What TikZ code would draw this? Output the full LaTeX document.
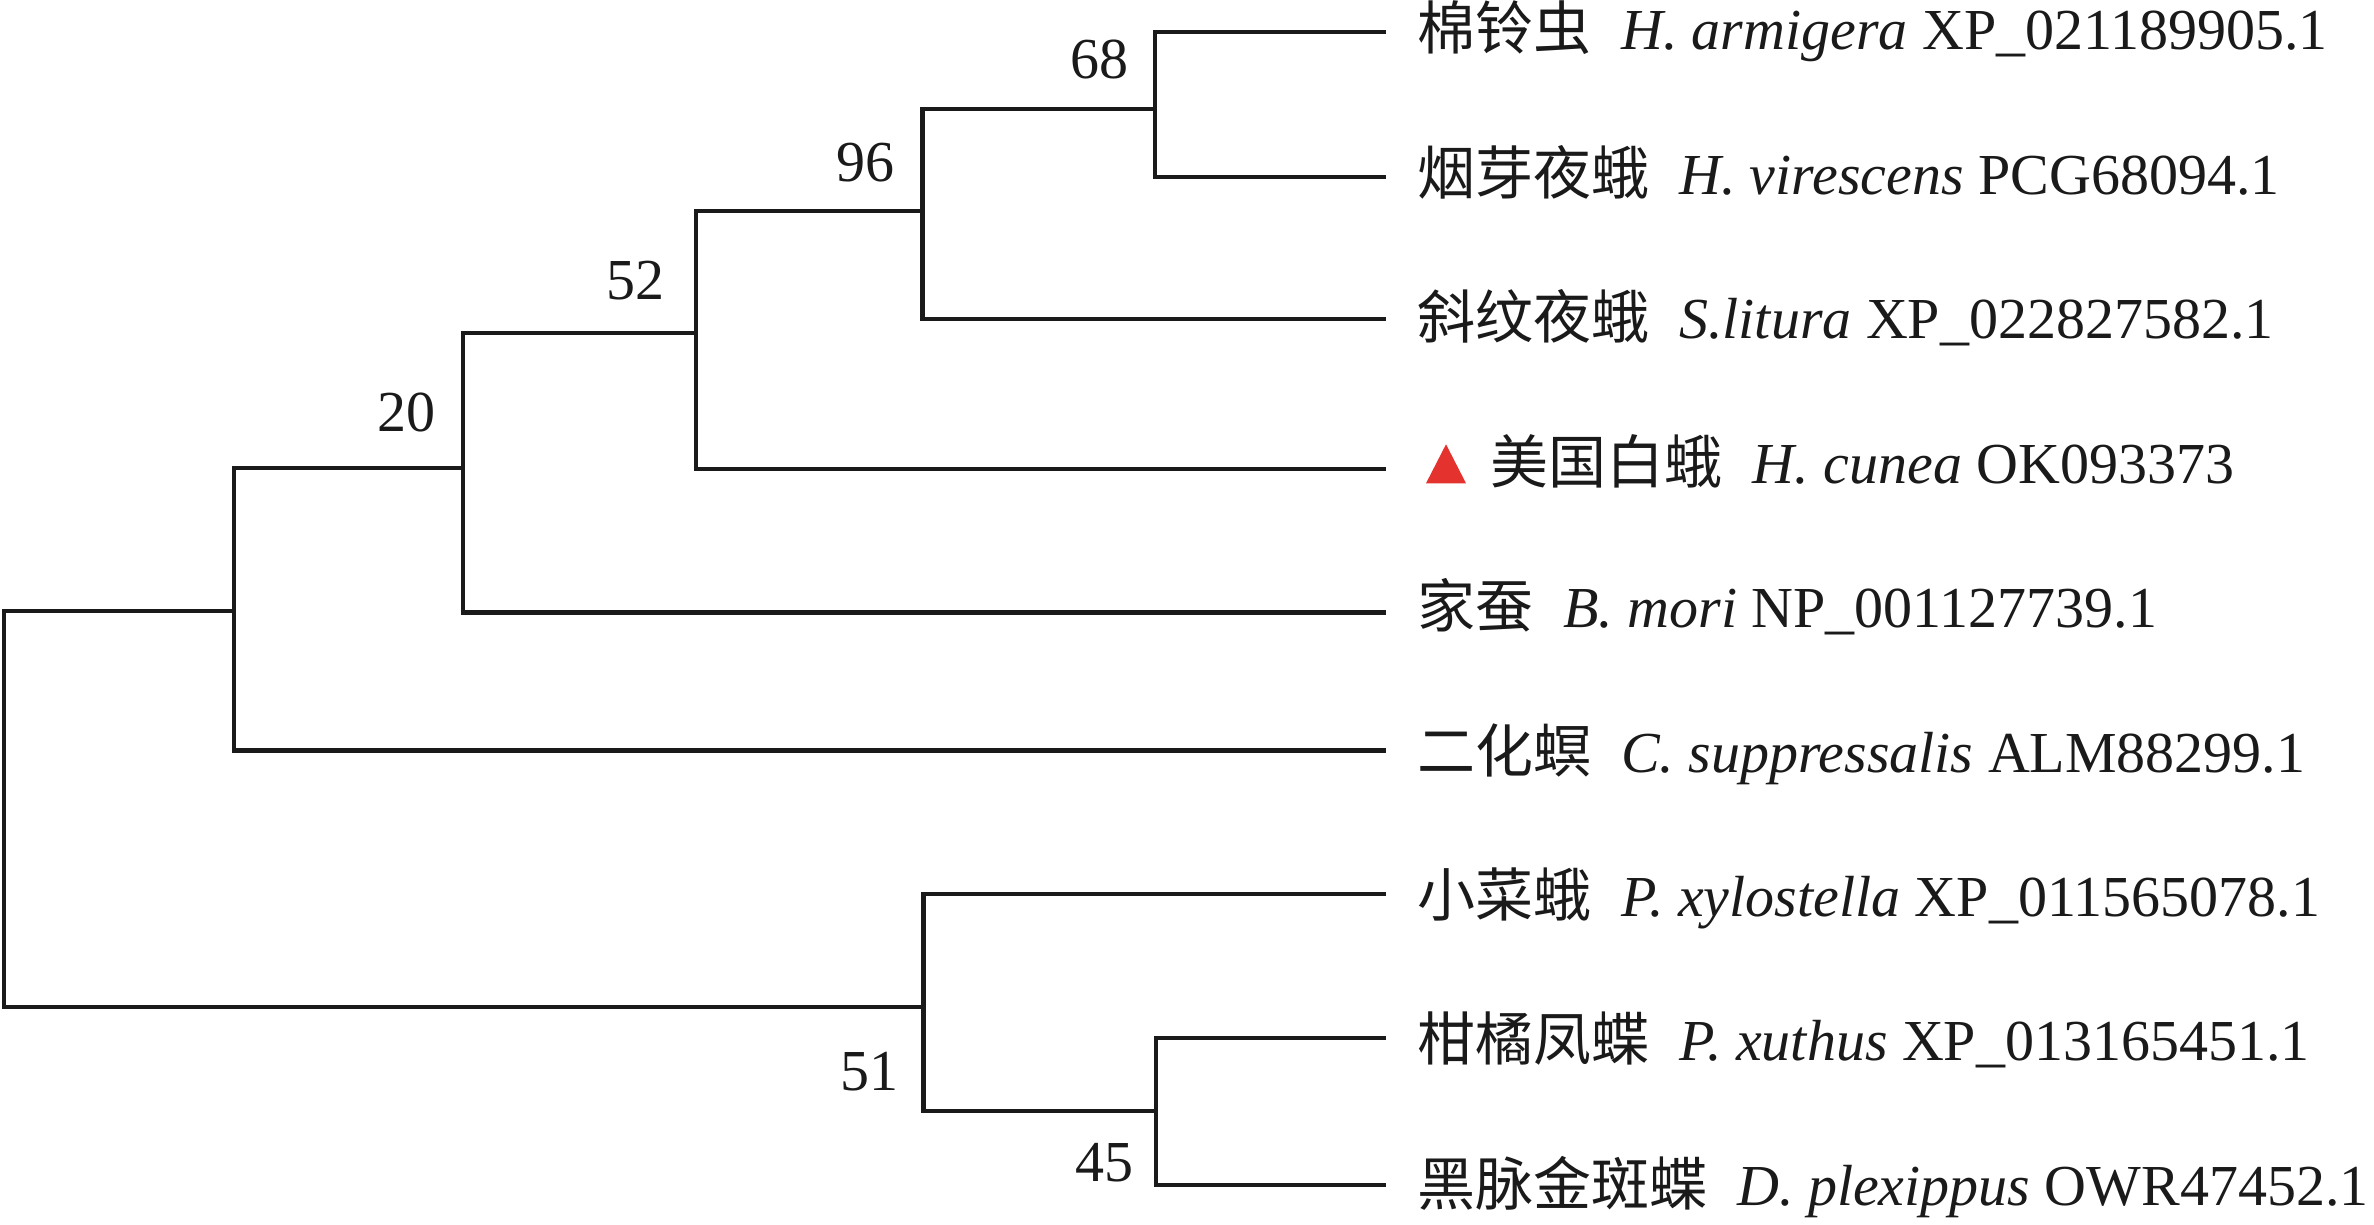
\documentclass[tikz,border=0pt]{standalone}
\usepackage{fontspec}
\setmainfont{Liberation Serif}
\newfontfamily\cjk{Noto Sans CJK SC}
\definecolor{ink}{RGB}{26,26,26}
\definecolor{tri}{RGB}{228,50,46}
\begin{document}
\begin{tikzpicture}[x=1pt,y=-1pt,
  br/.style={draw=ink,line width=4.4pt,line join=miter},
  leaflab/.style={anchor=base west,inner sep=0pt,outer sep=0pt,text=ink,font=\fontsize{58pt}{70pt}\selectfont},
  bootlab/.style={anchor=base east,inner sep=0pt,outer sep=0pt,text=ink,font=\fontsize{58pt}{70pt}\selectfont},
  trimark/.style={fill=tri,draw=none}]
\useasboundingbox (0,0) rectangle (2374,1225);
% leaf tips
\coordinate (l1) at (1386,32.3);
\coordinate (l2) at (1386,177);
\coordinate (l3) at (1386,318.7);
\coordinate (l4) at (1386,469);
\coordinate (l5) at (1386,612.3);
\coordinate (l6) at (1386,750.3);
\coordinate (l7) at (1386,893.7);
\coordinate (l8) at (1386,1037.7);
\coordinate (l9) at (1386,1185);
% internal nodes
\coordinate (nE) at (1155,109);
\coordinate (nD) at (922.3,210.8);
\coordinate (nC) at (695.7,332.7);
\coordinate (nB) at (462.7,467.7);
\coordinate (nA) at (234,611);
\coordinate (nG) at (1155.7,1111);
\coordinate (nF) at (923.3,1007);
\coordinate (nR) at (3.8,809);
% branches
\draw[br] (nE) |- (l1);
\draw[br] (nE) |- (l2);
\draw[br] (nD) |- (nE);
\draw[br] (nD) |- (l3);
\draw[br] (nC) |- (nD);
\draw[br] (nC) |- (l4);
\draw[br] (nB) |- (nC);
\draw[br] (nB) |- (l5);
\draw[br] (nA) |- (nB);
\draw[br] (nA) |- (l6);
\draw[br] (nR) |- (nA);
\draw[br] (nR) |- (nF);
\draw[br] (nF) |- (l7);
\draw[br] (nF) |- (nG);
\draw[br] (nG) |- (l8);
\draw[br] (nG) |- (l9);
% bootstrap values
\node[bootlab] (b68) at (1128.5,78.3) {68};
\node[bootlab] (b96) at (894.5,182) {96};
\node[bootlab] (b52) at (664,299) {52};
\node[bootlab] (b20) at (435.7,431) {20};
\node[bootlab] (b51) at (898.4,1090) {51};
\node[bootlab] (b45) at (1133,1181.7) {45};
% leaf labels
\node[leaflab] (t1) at (1417,50) {{\cjk 棉铃虫}\hspace{0.52em}\textit{H. armigera} XP\_021189905.1};
\node[leaflab] (t2) at (1417,194.4) {{\cjk 烟芽夜蛾}\hspace{0.52em}\textit{H. virescens} PCG68094.1};
\node[leaflab] (t3) at (1417,338.8) {{\cjk 斜纹夜蛾}\hspace{0.52em}\textit{S.litura} XP\_022827582.1};
\fill[trimark] (1426,483.3) -- (1446,444.3) -- (1466,483.3) -- cycle;
\node[leaflab] (t4) at (1490.5,483.2) {{\cjk 美国白蛾}\hspace{0.52em}\textit{H. cunea} OK093373};
\node[leaflab] (t5) at (1417,627.6) {{\cjk 家蚕}\hspace{0.52em}\textit{B. mori} NP\_001127739.1};
\node[leaflab] (t6) at (1417,772) {{\cjk 二化螟}\hspace{0.52em}\textit{C. suppressalis} ALM88299.1};
\node[leaflab] (t7) at (1417,916.4) {{\cjk 小菜蛾}\hspace{0.52em}\textit{P. xylostella} XP\_011565078.1};
\node[leaflab] (t8) at (1417,1060.8) {{\cjk 柑橘凤蝶}\hspace{0.52em}\textit{P. xuthus} XP\_013165451.1};
\node[leaflab] (t9) at (1417,1205.2) {{\cjk 黑脉金斑蝶}\hspace{0.52em}\textit{D. plexippus} OWR47452.1};
\end{tikzpicture}
\end{document}
